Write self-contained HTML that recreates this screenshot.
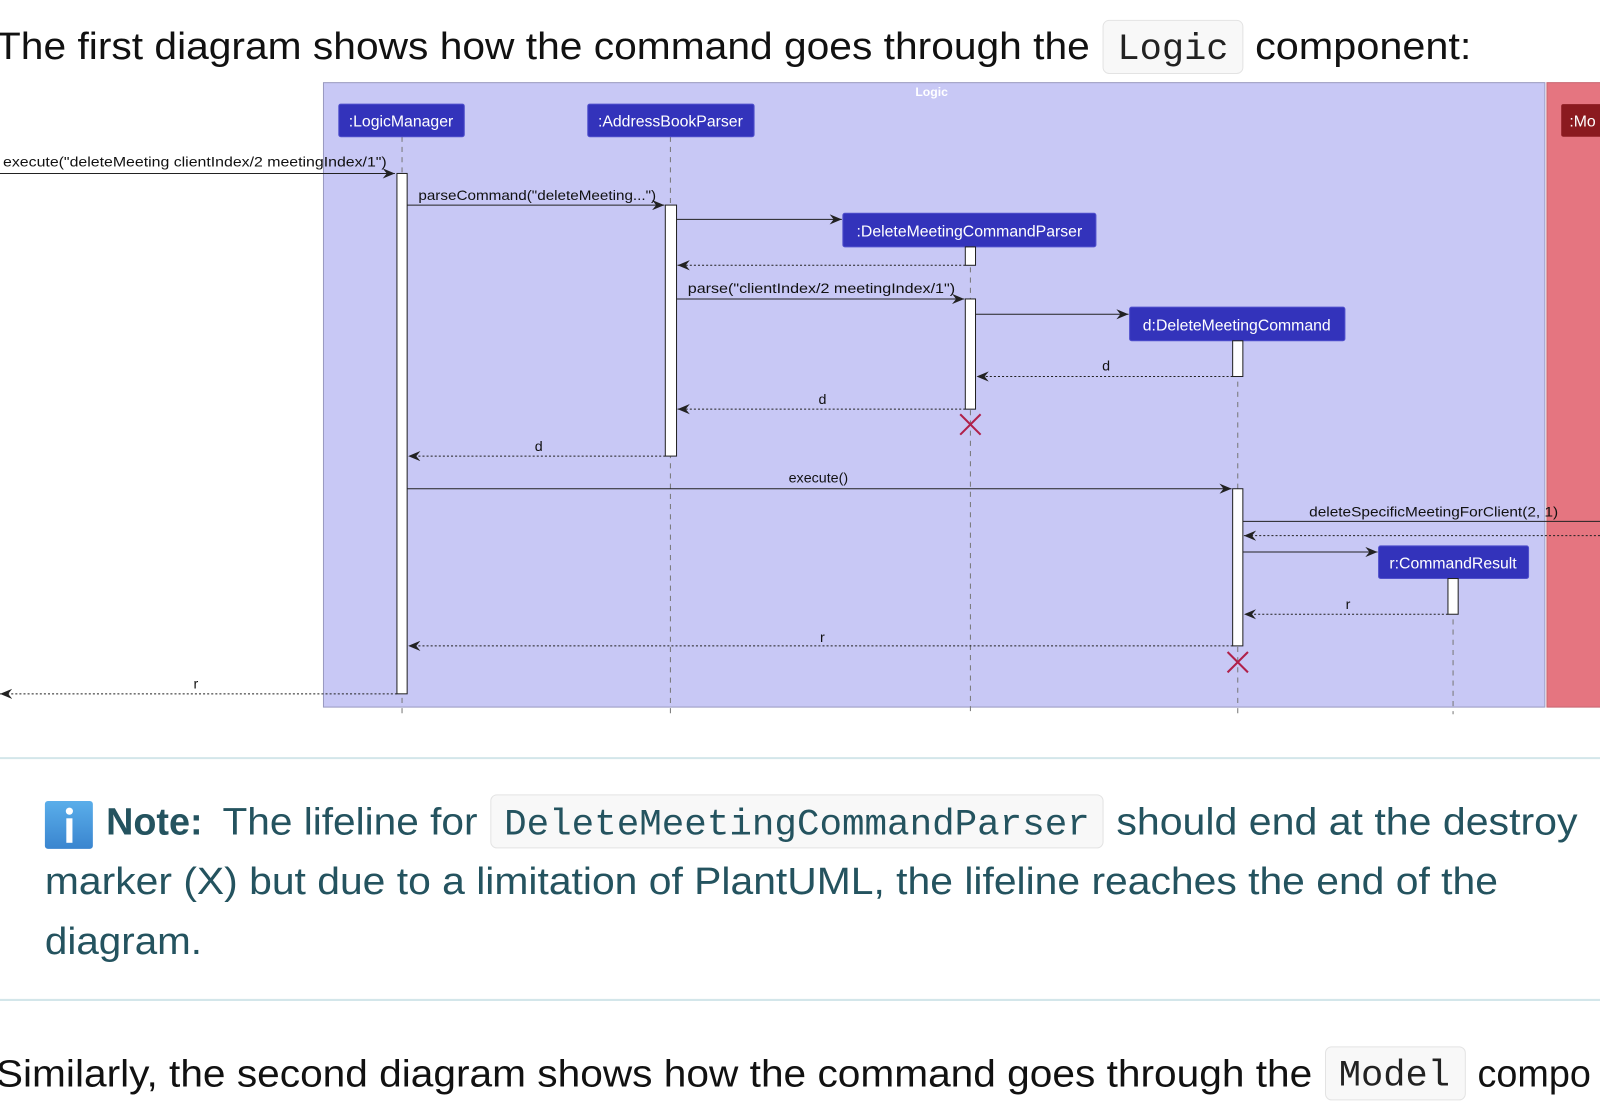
<!DOCTYPE html>
<html><head><meta charset="utf-8"><style>
html,body{margin:0;padding:0;background:#fff;width:1600px;height:1104px;overflow:hidden}
svg{display:block}
.d{font-family:"Liberation Sans",sans-serif;font-size:14px;fill:#111}
.p{font-family:"Liberation Sans",sans-serif;font-size:15.5px;fill:#fff}
.t{font-family:"Liberation Sans",sans-serif;font-size:37px;fill:#111}
.n{font-family:"Liberation Sans",sans-serif;font-size:37px;fill:#24535f}
.m{font-family:"Liberation Mono",monospace;font-size:36px}
</style></head><body>
<svg width="1600" height="1104" viewBox="0 0 1568 1082" preserveAspectRatio="none">
<defs>
<marker id="a" viewBox="0 0 12 10" refX="12" refY="5" markerWidth="12" markerHeight="10" markerUnits="userSpaceOnUse" orient="auto"><path d="M0,0 L12,5 L0,10 L4,5 Z" fill="#222"/></marker>
</defs>
<!-- heading -->
<text class="t" x="-4" y="58" textLength="1072" lengthAdjust="spacingAndGlyphs">The first diagram shows how the command goes through the</text>
<rect x="1081" y="20" width="137" height="52" rx="6" fill="#f8f8f8" stroke="#e3e3e3"/>
<text class="m" x="1095" y="58" fill="#222" textLength="109" lengthAdjust="spacingAndGlyphs">Logic</text>
<text class="t" x="1230" y="58" textLength="212" lengthAdjust="spacingAndGlyphs">component:</text>

<!-- boxes -->
<rect x="317" y="81" width="1197" height="612" fill="#c8c8f5" stroke="#9a9ac0"/>
<rect x="1516" y="81" width="60" height="612" fill="#e57580" stroke="#c86570"/>
<text x="913" y="94" text-anchor="middle" font-family="Liberation Sans,sans-serif" font-size="12" font-weight="bold" fill="#fff">Logic</text>
<rect x="1530" y="102" width="50" height="32" rx="2" fill="#8b1a1f"/>
<text class="p" x="1538" y="124">:Mo</text>

<!-- lifelines -->
<g stroke="#777" stroke-dasharray="5,5" stroke-width="1">
<line x1="394" y1="134" x2="394" y2="700"/>
<line x1="657" y1="134" x2="657" y2="700"/>
<line x1="951" y1="242" x2="951" y2="700"/>
<line x1="1213" y1="334" x2="1213" y2="700"/>
<line x1="1424" y1="567" x2="1424" y2="700"/>
</g>

<!-- participants -->
<g fill="#3333bb" stroke="#5050cc">
<rect x="332" y="102" width="123" height="32" rx="2"/>
<rect x="576" y="102" width="163" height="32" rx="2"/>
<rect x="826" y="209" width="248" height="33" rx="2"/>
<rect x="1107" y="301" width="211" height="33" rx="2"/>
<rect x="1351" y="535" width="147" height="32" rx="2"/>
</g>
<text class="p" x="393" y="124" text-anchor="middle">:LogicManager</text>
<text class="p" x="657" y="124" text-anchor="middle">:AddressBookParser</text>
<text class="p" x="950" y="232" text-anchor="middle">:DeleteMeetingCommandParser</text>
<text class="p" x="1212" y="324" text-anchor="middle">d:DeleteMeetingCommand</text>
<text class="p" x="1424" y="557" text-anchor="middle">r:CommandResult</text>

<!-- activations -->
<g fill="#fff" stroke="#222" stroke-width="1">
<rect x="389" y="170" width="10" height="510"/>
<rect x="652" y="201" width="11" height="246"/>
<rect x="946" y="242" width="10" height="18"/>
<rect x="946" y="293" width="10" height="108"/>
<rect x="1208" y="334" width="10" height="35"/>
<rect x="1208" y="479" width="10" height="154"/>
<rect x="1419" y="567" width="10" height="35"/>
</g>

<!-- messages -->
<g stroke="#222" stroke-width="1" fill="none" marker-end="url(#a)">
<line x1="0" y1="170" x2="387" y2="170"/>
<line x1="399" y1="201" x2="651" y2="201"/>
<line x1="663" y1="215" x2="825" y2="215"/>
<line x1="663" y1="293" x2="945" y2="293"/>
<line x1="956" y1="308" x2="1106" y2="308"/>
<line x1="399" y1="479" x2="1207" y2="479"/>
<line x1="1218" y1="511" x2="1568" y2="511" marker-end="none"/>
<line x1="1218" y1="541" x2="1350" y2="541"/>
</g>
<g stroke="#222" stroke-width="1" fill="none" stroke-dasharray="2,2" marker-end="url(#a)">
<line x1="946" y1="260" x2="664" y2="260"/>
<line x1="1208" y1="369" x2="957" y2="369"/>
<line x1="946" y1="401" x2="664" y2="401"/>
<line x1="652" y1="447" x2="400" y2="447"/>
<line x1="1568" y1="525" x2="1219" y2="525"/>
<line x1="1419" y1="602" x2="1219" y2="602"/>
<line x1="1208" y1="633" x2="400" y2="633"/>
<line x1="389" y1="680" x2="0" y2="680"/>
</g>
<g stroke="#b0204a" stroke-width="2">
<line x1="941" y1="406" x2="961" y2="426"/><line x1="961" y1="406" x2="941" y2="426"/>
<line x1="1203" y1="639" x2="1223" y2="659"/><line x1="1223" y1="639" x2="1203" y2="659"/>
</g>

<g class="d">
<text x="3" y="163" textLength="376" lengthAdjust="spacingAndGlyphs">execute("deleteMeeting clientIndex/2 meetingIndex/1")</text>
<text x="410" y="196" textLength="233" lengthAdjust="spacingAndGlyphs">parseCommand("deleteMeeting...")</text>
<text x="674" y="287" textLength="262" lengthAdjust="spacingAndGlyphs">parse("clientIndex/2 meetingIndex/1")</text>
<text x="1084" y="363" text-anchor="middle">d</text>
<text x="806" y="396" text-anchor="middle">d</text>
<text x="528" y="442" text-anchor="middle">d</text>
<text x="802" y="473" text-anchor="middle">execute()</text>
<text x="1283" y="506" textLength="244" lengthAdjust="spacingAndGlyphs">deleteSpecificMeetingForClient(2, 1)</text>
<text x="1321" y="597" text-anchor="middle">r</text>
<text x="806" y="629" text-anchor="middle">r</text>
<text x="192" y="675" text-anchor="middle">r</text>
</g>

<!-- note -->
<line x1="0" y1="743" x2="1568" y2="743" stroke="#d3e6ea" stroke-width="2"/>
<defs><linearGradient id="g" x1="0" y1="0" x2="0" y2="1"><stop offset="0" stop-color="#5aaeea"/><stop offset="1" stop-color="#3a85cf"/></linearGradient></defs>
<rect x="44" y="785" width="47" height="47" rx="3" fill="url(#g)"/>
<circle cx="68" cy="795" r="3.5" fill="#fff"/>
<rect x="65" y="802" width="6" height="24" fill="#fff"/>
<text class="n" x="104" y="818" font-weight="bold">Note:</text>
<text class="n" x="218" y="818" textLength="250" lengthAdjust="spacingAndGlyphs">The lifeline for</text>
<rect x="481" y="779" width="600" height="52" rx="6" fill="#f8f8f8" stroke="#e3e3e3"/>
<text class="m" x="494" y="818" fill="#24535f" textLength="574" lengthAdjust="spacingAndGlyphs">DeleteMeetingCommandParser</text>
<text class="n" x="1094" y="818" textLength="452" lengthAdjust="spacingAndGlyphs">should end at the destroy</text>
<text class="n" x="44" y="876" textLength="1424" lengthAdjust="spacingAndGlyphs">marker (X) but due to a limitation of PlantUML, the lifeline reaches the end of the</text>
<text class="n" x="44" y="935" textLength="154" lengthAdjust="spacingAndGlyphs">diagram.</text>
<line x1="0" y1="980" x2="1568" y2="980" stroke="#d3e6ea" stroke-width="2"/>

<text class="t" x="-4" y="1065" textLength="1290" lengthAdjust="spacingAndGlyphs">Similarly, the second diagram shows how the command goes through the</text>
<rect x="1299" y="1026" width="137" height="52" rx="6" fill="#f8f8f8" stroke="#e3e3e3"/>
<text class="m" x="1312" y="1064" fill="#222" textLength="109" lengthAdjust="spacingAndGlyphs">Model</text>
<text class="t" x="1448" y="1065">compo</text>
</svg>
</body></html>
